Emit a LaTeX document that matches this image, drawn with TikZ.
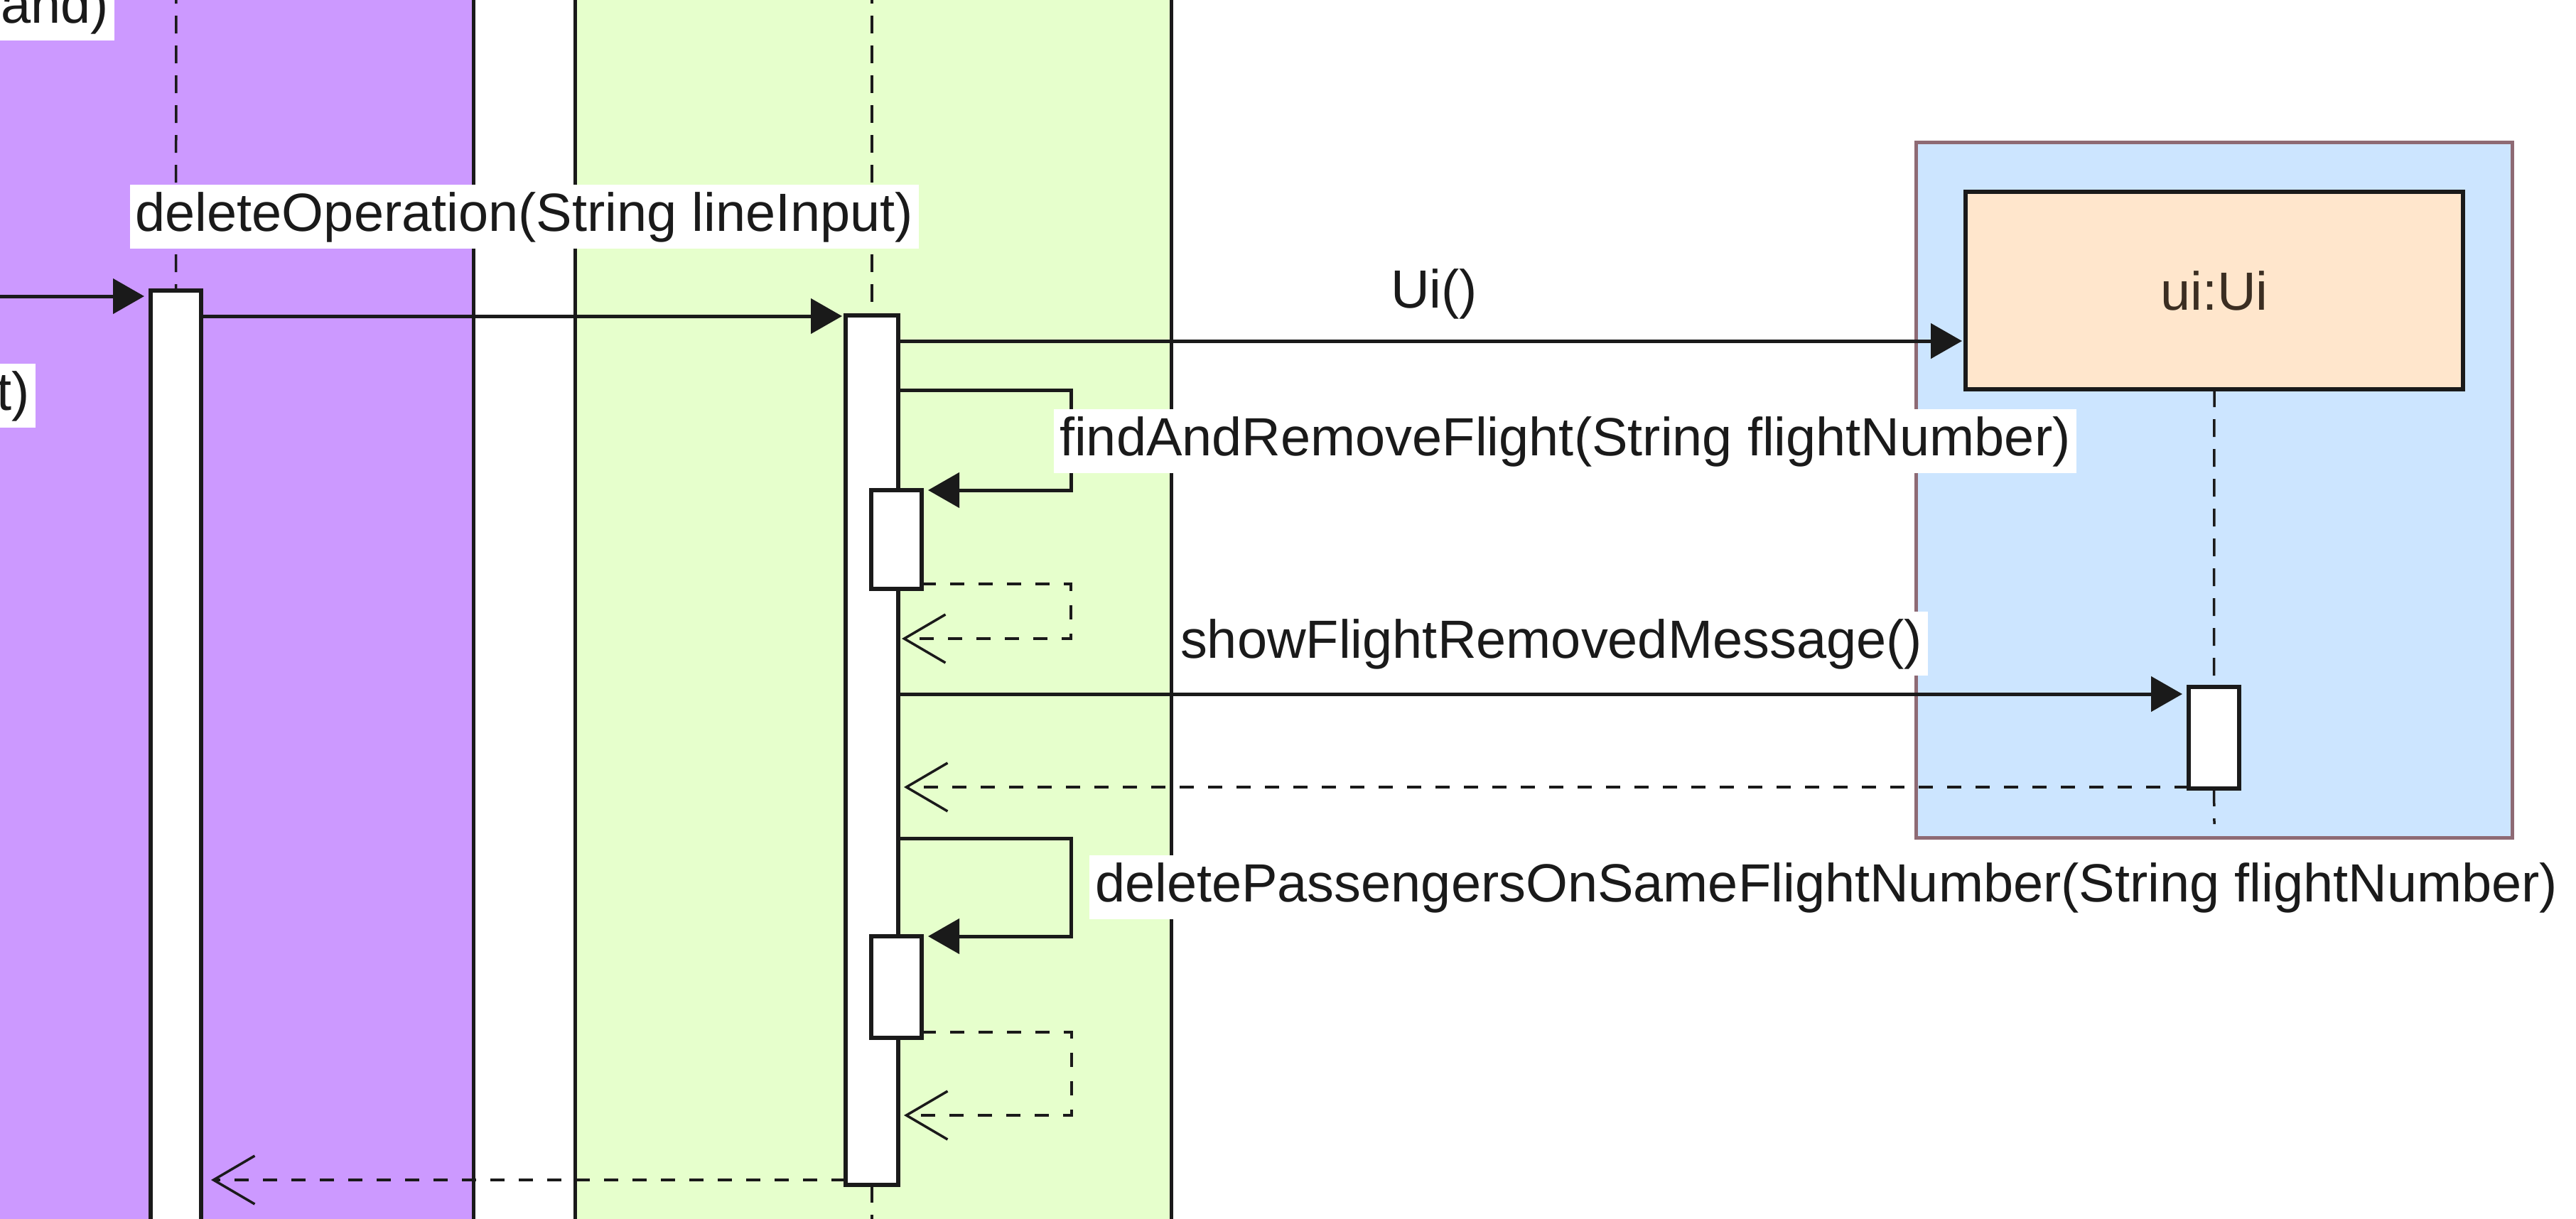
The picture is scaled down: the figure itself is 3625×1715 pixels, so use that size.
\documentclass[tikz,border=0pt]{standalone}
\usepackage{fontspec}
\setmainfont{Liberation Sans}
\usetikzlibrary{arrows.meta,calc}
\definecolor{purp}{HTML}{CC99FF}
\definecolor{grn}{HTML}{E6FFCC}
\definecolor{blu}{HTML}{CCE5FF}
\definecolor{pch}{HTML}{FFE6CC}
\definecolor{frm}{HTML}{8E6A74}
\definecolor{ink}{HTML}{1A1A1A}
\begin{document}
\begin{tikzpicture}[x=0.1mm,y=-0.1mm,
  font=\fontsize{21.55pt}{26pt}\selectfont,
  edge/.style={draw=ink,line width=0.5mm},
  act/.style={draw=ink,fill=white,line width=0.6mm,inner sep=0pt,outer sep=0pt,minimum width=7.1mm},
  life/.style={draw=ink,line width=0.35mm,dash pattern=on 2.5mm off 1.7mm},
  msg/.style={draw=ink,line width=0.5mm,-{Triangle[length=4.4mm,width=4.9mm]}},
  ret/.style={draw=ink,line width=0.35mm,dash pattern=on 2mm off 2mm,-{Straight Barb[length=5.8mm,width=6.8mm,line width=0.35mm]}},
  lbl/.style={fill=white,text=ink,inner xsep=0.8mm,inner ysep=0.8mm,text height=5.7mm,text depth=1.67mm,outer sep=0pt},
  txt/.style={text=ink,inner sep=0pt,text height=5.7mm,text depth=1.67mm},
]
\path[use as bounding box] (0,0) rectangle (3625,1715);
\clip (0,0) rectangle (3625,1715);
\fill[white] (0,0) rectangle (3625,1715);
% swim regions
\fill[purp] (-20,-20) rectangle (666,1740);
\draw[edge] (666,-20) -- (666,1740);
\fill[grn] (809,-20) rectangle (1648,1740);
\draw[edge] (809,-20) -- (809,1740) (1648,-20) -- (1648,1740);
% ui frame and object
\node[draw=frm,fill=blu,line width=0.5mm,inner sep=0pt,outer sep=0pt,minimum width=83.9mm,minimum height=97.9mm] (uiframe) at (3115.5,689.5) {};
\node[draw=ink,fill=pch,line width=0.6mm,inner sep=0pt,outer sep=0pt,minimum width=70mm,minimum height=27.8mm,text=ink!80!brown] (ui) at (3116,409) {ui:Ui};
% activation boxes
\node[act,minimum height=133.1mm] (actP) at (247.5,1074.5) {};
\node[act,minimum width=7.4mm,minimum height=122.4mm] (actG) at (1227,1056) {};
\node[act,minimum height=13.9mm] (n1) at (1261.5,759.5) {};
\node[act,minimum height=14.3mm] (n2) at (1261.5,1389.5) {};
\node[act,minimum height=14.3mm] (actU) at (3115.5,1038.5) {};
% lifelines
\coordinate (topP) at (248,-20);
\coordinate (topG) at (1227,-20);
\coordinate (botG) at (1227,1740);
\coordinate (botU) at (3116,1160);
\draw[life] (topP) -- (actP.north);
\draw[life] (topG) -- (actG.north);
\draw[life] (actG.south) -- (botG);
\draw[life] (ui.south) -- (actU.north);
\draw[life] (actU.south) -- (botU);
% messages
\coordinate (inL) at (-20,417);
\draw[msg,shorten >=0.9mm] (inL) -- (actP.west |- 0,417);
\draw[msg,shorten >=0.5mm] (actP.east |- 0,445) -- (actG.west |- 0,445);
\draw[msg,shorten >=0.5mm] (actG.east |- 0,480) -- (ui.west |- 0,480);
\draw[msg,shorten >=0.9mm] (actG.east |- 0,549) -- ++(243,0) |- (n1.north east);
\draw[ret,shorten >=0.5mm] (n1.east |- 0,822) -- ++(210,0) |- (actG.east |- 0,899);
\draw[msg,shorten >=0.9mm] (actG.east |- 0,977) -- (actU.west |- 0,977);
\draw[ret,shorten >=0.8mm] (actU.west |- 0,1108) -- (actG.east |- 0,1108);
\draw[msg,shorten >=0.9mm] (actG.east |- 0,1180) -- ++(243,0) |- (n2.north east);
\draw[ret,shorten >=0.8mm] (n2.east |- 0,1453) -- ++(211,0) |- (actG.east |- 0,1570);
\draw[ret,shorten >=1.4mm] (actG.west |- 0,1661) -- (actP.east |- 0,1661);
% labels
\node[lbl] (ldel) at (738,305) {deleteOperation(String lineInput)};
\node[txt] (lui) at (2018,413) {Ui()};
\node[lbl,anchor=west] (lfind) at (1483,621) {findAndRemoveFlight(String flightNumber)};
\node[lbl] (lshow) at (2183,906) {showFlightRemovedMessage()};
\node[lbl,anchor=west] (ldp) at (1533,1249) {deletePassengersOnSameFlightNumber(String flightNumber)};
\node[lbl,anchor=south east] (land) at (161,57) {and)};
\node[lbl,anchor=east] (lt) at (50,557) {t)};
\end{tikzpicture}
\end{document}
